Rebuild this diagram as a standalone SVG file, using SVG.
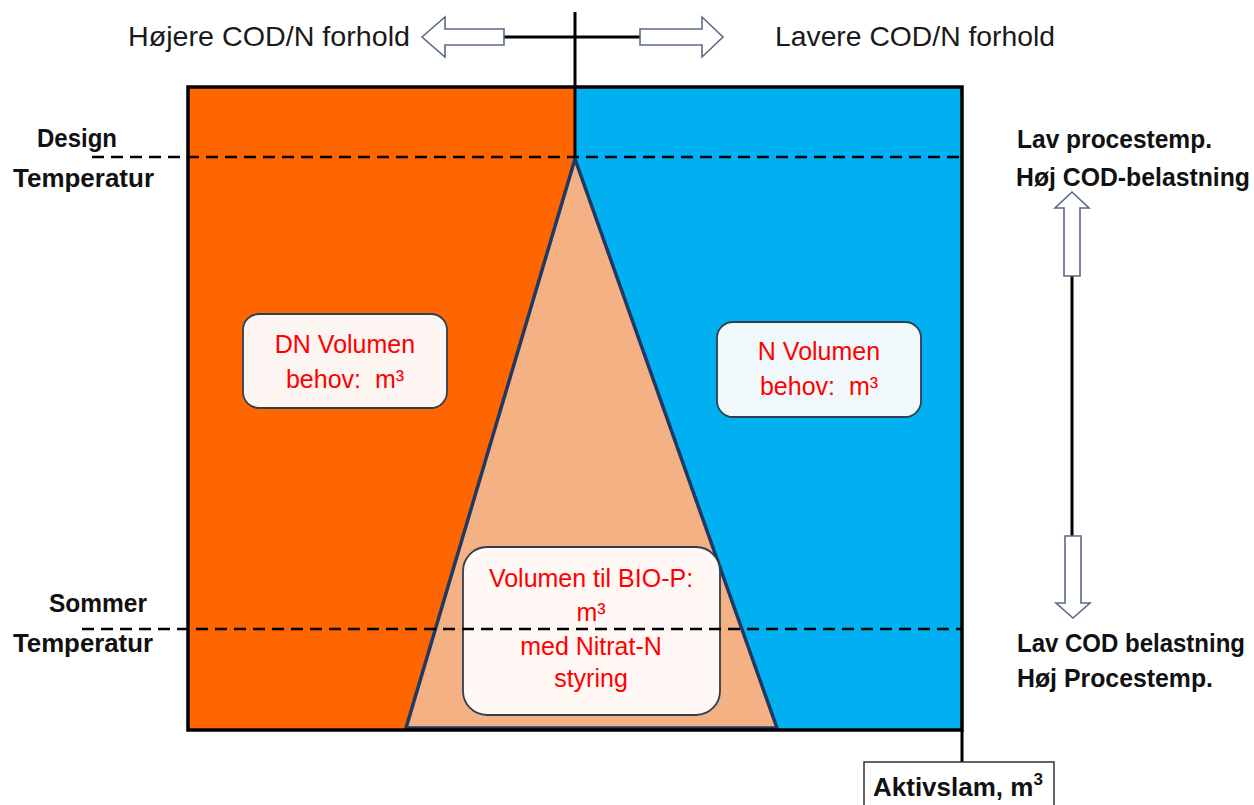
<svg xmlns="http://www.w3.org/2000/svg" width="1254" height="805" viewBox="0 0 1254 805">
<style>
.lbl{font-family:"Liberation Sans",Arial,sans-serif;font-size:28px;fill:#1a1a1a}
.bold{font-family:"Liberation Sans",Arial,sans-serif;font-size:25px;font-weight:bold;fill:#111}
.red{font-family:"Liberation Sans",Arial,sans-serif;font-size:25px;fill:#FF0000;text-anchor:middle}
.box{stroke:#2E3F50;stroke-width:1.8}
.dash{stroke:#000;stroke-width:2.5;stroke-dasharray:12 7;fill:none}
.hollow{fill:#fff;stroke:#5A6A85;stroke-width:1.6}
.line{stroke:#000;stroke-width:3;fill:none}
</style>
<rect width="1254" height="805" fill="#fff"/>
<g id="zones">
<rect x="188" y="87" width="387" height="643" fill="#FF6600"/>
<rect x="575" y="87" width="387" height="643" fill="#00B0F0"/>
<polygon points="575,159 406,728 777,728" fill="#F4B183" stroke="#1F3864" stroke-width="3.5" stroke-linejoin="round"/>
</g>
<g id="dn-box">
<rect class="box" x="243" y="314" width="204" height="94" rx="16" fill="#FDF5F1"/>
<text class="red" x="345" y="353">DN Volumen</text>
<text class="red" x="345" y="388" xml:space="preserve">behov:  m³</text>
</g>
<g id="n-box">
<rect class="box" x="717" y="322" width="204" height="95" rx="16" fill="#F1F8FC"/>
<text class="red" x="819" y="360">N Volumen</text>
<text class="red" x="819" y="395" xml:space="preserve">behov:  m³</text>
</g>
<g id="biop-box">
<rect class="box" x="463" y="547" width="257" height="168" rx="24" fill="#FFF8F5"/>
<text class="red" x="591" y="587">Volumen til BIO-P:</text>
<text class="red" x="591" y="621">m³</text>
<text class="red" x="591" y="655">med Nitrat-N</text>
<text class="red" x="591" y="687">styring</text>
</g>
<g id="connectors">
<line class="dash" x1="92" y1="157" x2="962" y2="157"/>
<line class="dash" x1="82" y1="629" x2="962" y2="629"/>
<rect x="188" y="87" width="774" height="643" fill="none" stroke="#000" stroke-width="3.5"/>
<line class="line" x1="575" y1="12" x2="575" y2="157"/>
<line class="line" x1="503" y1="37" x2="641" y2="37"/>
<line class="line" x1="1072" y1="275" x2="1072" y2="537"/>
<line class="line" x1="962" y1="730" x2="962" y2="763"/>
<polygon class="hollow" points="422,37 445,17 445,29 504,29 504,45 445,45 445,57"/>
<polygon class="hollow" points="640,29 702,29 702,17 723,37 702,57 702,45 640,45"/>
<polygon class="hollow" points="1072,192 1089,208 1080,208 1080,276 1064,276 1064,208 1055,208"/>
<polygon class="hollow" points="1065,536 1081,536 1081,603 1090,603 1073,618 1056,603 1065,603"/>
</g>
<g id="top-labels">
<text class="lbl" x="128" y="46" textLength="282" lengthAdjust="spacingAndGlyphs">Højere COD/N forhold</text>
<text class="lbl" x="775" y="46" textLength="280" lengthAdjust="spacingAndGlyphs">Lavere COD/N forhold</text>
</g>
<g id="left-labels">
<text class="bold" x="37" y="147" textLength="80" lengthAdjust="spacingAndGlyphs">Design</text>
<text class="bold" x="13" y="187" textLength="141" lengthAdjust="spacingAndGlyphs">Temperatur</text>
<text class="bold" x="49" y="612" textLength="98" lengthAdjust="spacingAndGlyphs">Sommer</text>
<text class="bold" x="13" y="652" textLength="140" lengthAdjust="spacingAndGlyphs">Temperatur</text>
</g>
<g id="right-labels">
<text class="bold" x="1017" y="148" textLength="195" lengthAdjust="spacingAndGlyphs">Lav procestemp.</text>
<text class="bold" x="1016" y="186" textLength="234" lengthAdjust="spacingAndGlyphs">Høj COD-belastning</text>
<text class="bold" x="1017" y="652" textLength="228" lengthAdjust="spacingAndGlyphs">Lav COD belastning</text>
<text class="bold" x="1017" y="687" textLength="196" lengthAdjust="spacingAndGlyphs">Høj Procestemp.</text>
</g>
<g id="aktivslam">
<rect x="864" y="762" width="190" height="60" fill="#fff" stroke="#333" stroke-width="1.5"/>
<text class="bold" x="873" y="796" style="font-size:26px">Aktivslam, m<tspan dy="-11" style="font-size:17px">3</tspan></text>
</g>
</svg>
